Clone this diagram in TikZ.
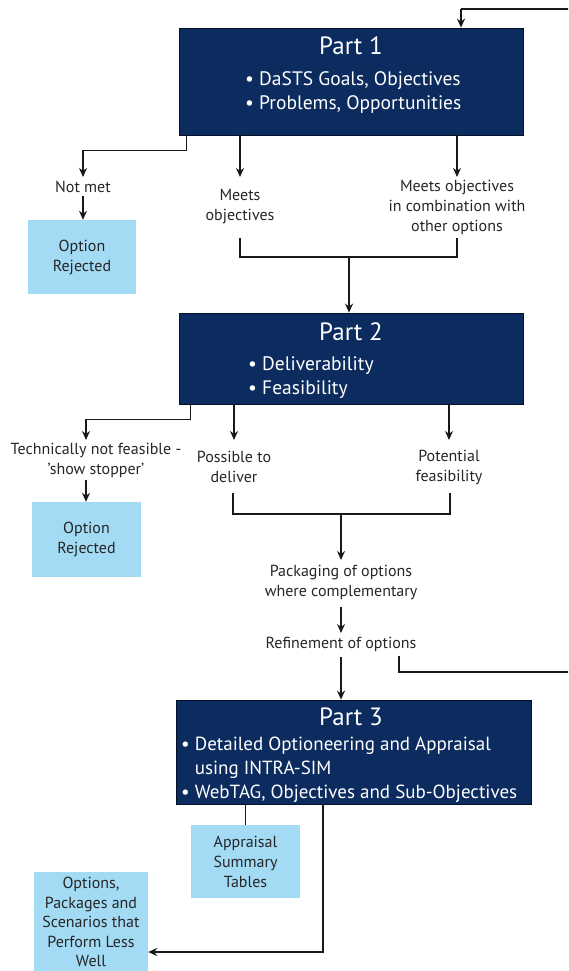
\documentclass[tikz,border=0pt]{standalone}
\usepackage{fontspec}
\setmainfont{PT Sans}
\usetikzlibrary{arrows.meta}
\definecolor{navy}{RGB}{12,43,94}
\definecolor{lblue}{RGB}{163,218,244}
\begin{document}
\begin{tikzpicture}[x=1pt,y=-1pt,
 navybox/.style={draw=black!60!navy, fill=navy, line width=0.8pt, inner sep=0pt},
 bluebox/.style={fill=lblue, inner sep=0pt, align=center, font=\fontsize{16}{20}\selectfont, text=black!85},
 lbl/.style={align=center, font=\fontsize{16}{20}\selectfont, inner sep=0pt, text=black!85},
 ttl/.style={text=white, font=\fontsize{25}{28}\selectfont, inner sep=0pt},
 bul/.style={text=white, font=\fontsize{19.5}{23.5}\selectfont, align=left, inner sep=0pt},
 bulsm/.style={text=white, font=\fontsize{19}{24}\selectfont, align=left, inner sep=0pt},
 conn/.style={line width=1.4pt, draw=black!90},
 arr/.style={conn, -{Stealth[length=9pt,width=8pt]}},
]
\useasboundingbox (0,0) rectangle (568,971);
\clip (0,0) rectangle (568,971);

% Part 1
\node[navybox, minimum width=344pt, minimum height=107pt] (p1) at (351,81.5) {};
\node[ttl] (t1) at (351,46) {Part 1};
\node[bul, anchor=west] (b1) at (245,92.5) {\textbullet\ DaSTS Goals, Objectives\\\textbullet\ Problems, Opportunities};

\node[lbl] (notmet) at (83,187) {Not met};
\node[bluebox, minimum width=108pt, minimum height=74pt] (rej1) at (82,257) {Option\\Rejected};
\node[lbl] (meets) at (240,206.5) {Meets\\objectives};
\node[lbl] (combo) at (457,207) {Meets objectives\\in combination with\\other options};

% Part 2
\node[navybox, minimum width=344pt, minimum height=91pt] (p2) at (351,358.5) {};
\node[ttl] (t2) at (351,332) {Part 2};
\node[bul, anchor=west] (b2) at (248,377.5) {\textbullet\ Deliverability\\\textbullet\ Feasibility};

\node[lbl] (tech) at (96,460) {Technically not feasible -\\'show stopper'};
\node[bluebox, minimum width=109pt, minimum height=75pt] (rej2) at (86.5,539.5) {Option\\Rejected};
\node[lbl] (poss) at (234,467) {Possible to\\deliver};
\node[lbl] (pot) at (449,467.5) {Potential\\feasibility};
\node[lbl] (pack) at (341,582) {Packaging of options\\where complementary};
\node[lbl] (refine) at (341,644) {Refinement of options};

% Part 3
\node[navybox, minimum width=355pt, minimum height=104pt] (p3) at (353.5,752) {};
\node[ttl] (t3) at (351,717) {Part 3};
\node[bulsm, anchor=west] (b3) at (181,770) {\textbullet\ Detailed Optioneering and Appraisal\\\phantom{\textbullet\ }using INTRA-SIM\\\textbullet\ WebTAG, Objectives and Sub-Objectives};

\node[bluebox, minimum width=109pt, minimum height=73pt] (ast) at (245.5,861.5) {Appraisal\\Summary\\Tables};
\node[bluebox, minimum width=114pt, minimum height=100pt, font=\fontsize{16}{19.5}\selectfont] (opt) at (91,922) {Options,\\Packages and\\Scenarios that\\Perform Less\\Well};

% coordinates
\coordinate (m1) at (240,238);
\coordinate (m2) at (457,238);
\coordinate (bm) at (349,257);
\coordinate (q1) at (233,493);
\coordinate (q2) at (450,493);
\coordinate (bq) at (341,514);
\coordinate (lt) at (461,9);
\coordinate (rb) at (580,672);
\coordinate (rf1) at (399,656);
\coordinate (ob) at (323,952);

% Part 1 connectors
\draw[arr] (lt) -- (lt |- p1.north);
\draw[arr] ([xshift=8pt]p1.south west) -- ++(0,15) -| (83,177);
\draw[arr] ([yshift=-3pt]notmet.south) -- (rej1.north -| notmet.south);
\draw[arr] (p1.south -| meets) -- (240,177);
\draw[arr] (p1.south -| combo) -- (457,177);
\draw[conn] (m1) |- (bm) -| (m2);
\draw[arr] (bm) -- (bm |- p2.north);

% Part 2 connectors
\draw[arr] ([xshift=12pt]p2.south west) -- ++(0,15) -| (86,440);
\draw[arr] (86,480) -- (rej2.north -| 86,0);
\draw[arr] (p2.south -| poss) -- (234,440);
\draw[arr] (p2.south -| pot) -- (449,440);
\draw[conn] (q1) |- (bq) -| (q2);
\draw[arr] (bq) -- (341,560);
\draw[arr] (341,607) -- (341,633);
\draw[arr] (341,657) -- (p3.north -| 341,0);
\draw[conn] (rf1) |- (rb) |- (lt);

% Part 3 connectors
\draw[conn] (p3.south -| ast) -- (ast.north);
\draw[arr] (p3.south -| ob) -- (ob) -- (ob -| opt.east);
\end{tikzpicture}
\end{document}
